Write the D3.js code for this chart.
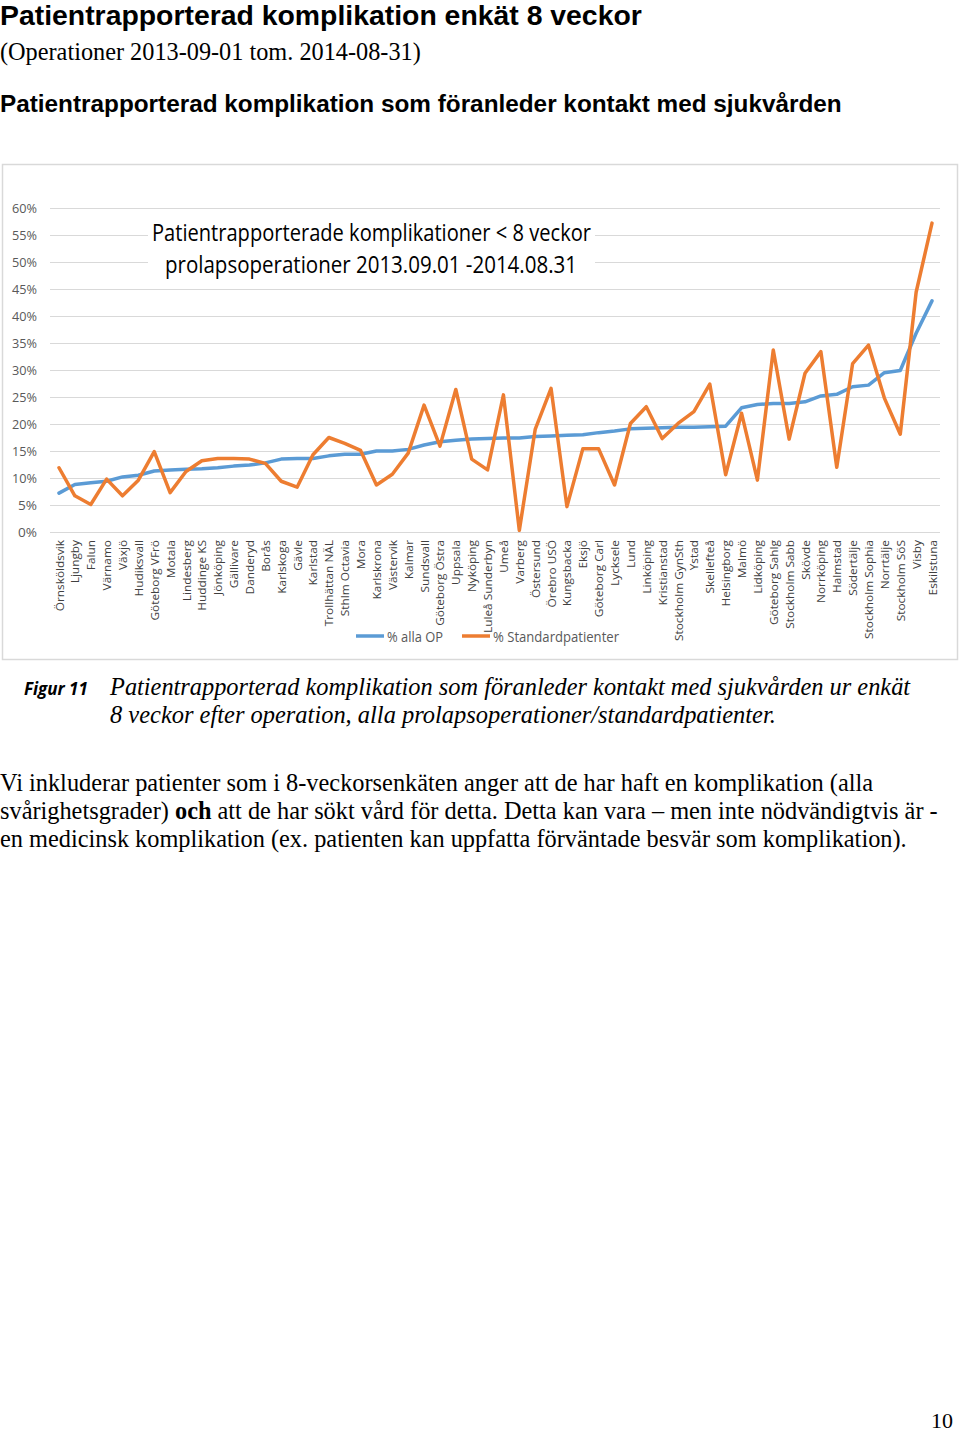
<!DOCTYPE html>
<html><head><meta charset="utf-8">
<script src="https://cdn.jsdelivr.net/npm/d3@7"></script>
<style>body{margin:0;background:#fff}svg{display:block}</style>
</head><body>
<script>
const categories = ["Örnsköldsvik","Ljungby","Falun","Värnamo","Växjö","Hudiksvall","Göteborg VFrö","Motala","Lindesberg","Huddinge KS","Jönköping","Gällivare","Danderyd","Borås","Karlskoga","Gävle","Karlstad","Trollhättan NÄL","Sthlm Octavia","Mora","Karlskrona","Västervik","Kalmar","Sundsvall","Göteborg Östra","Uppsala","Nyköping","Luleå Sunderbyn","Umeå","Varberg","Östersund","Örebro USÖ","Kungsbacka","Eksjö","Göteborg Carl","Lycksele","Lund","Linköping","Kristianstad","Stockholm GynSth","Ystad","Skellefteå","Helsingborg","Malmö","Lidköping","Göteborg Sahlg","Stockholm Sabb","Skövde","Norrköping","Halmstad","Södertälje","Stockholm Sophia","Norrtälje","Stockholm SöS","Visby","Eskilstuna"];
const allaOP = [7.2,8.8,9.1,9.4,10.2,10.5,11.3,11.5,11.6,11.7,11.9,12.2,12.4,12.8,13.5,13.6,13.6,14.1,14.4,14.4,15.0,15.0,15.3,16.1,16.7,17.0,17.2,17.3,17.4,17.4,17.7,17.8,17.9,18.0,18.4,18.7,19.1,19.2,19.3,19.4,19.4,19.5,19.6,23.0,23.6,23.8,23.8,24.1,25.2,25.5,26.9,27.2,29.5,29.9,36.8,42.8];
const standard = [11.9,6.7,5.1,9.8,6.7,9.6,14.9,7.3,11.2,13.2,13.6,13.6,13.5,12.7,9.4,8.3,14.3,17.5,16.4,15.1,8.7,10.7,14.6,23.5,15.9,26.4,13.5,11.5,25.4,0.3,19.0,26.6,4.7,15.4,15.4,8.7,20.1,23.2,17.3,20.1,22.3,27.4,10.6,22.0,9.6,33.7,17.2,29.4,33.4,12.0,31.2,34.6,24.8,18.1,44.4,57.2];
const yTicks = [0,5,10,15,20,25,30,35,40,45,50,55,60];
const seriesNames = ["% alla OP","% Standardpatienter"];
const seriesColors = ["#5b9bd5","#ed7d31"];

const W = 960, H = 1433;
const svg = d3.select("body").append("svg").attr("width", W).attr("height", H);

function fit(sel, target){ // scale font size so text spans target width
  const node = sel.node(); const w = node.getComputedTextLength();
  const fs = parseFloat(sel.attr("font-size"));
  if (w > 0) sel.attr("font-size", (fs * target / w).toFixed(2));
  return sel;
}
function squeeze(sel, target){
  sel.attr("textLength", target).attr("lengthAdjust","spacingAndGlyphs");
  return sel;
}

// Page headings
fit(svg.append("text").attr("x",0).attr("y",25).attr("font-family","Liberation Sans, Arial, sans-serif")
  .attr("font-weight","bold").attr("font-size",26).attr("fill","#000")
  .text("Patientrapporterad komplikation enkät 8 veckor"), 642);
fit(svg.append("text").attr("x",0).attr("y",60).attr("font-family","Liberation Serif, Times New Roman, serif")
  .attr("font-size",22).attr("fill","#000")
  .text("(Operationer 2013-09-01 tom. 2014-08-31)"), 421);
fit(svg.append("text").attr("x",0).attr("y",112).attr("font-family","Liberation Sans, Arial, sans-serif")
  .attr("font-weight","bold").attr("font-size",22).attr("fill","#000")
  .text("Patientrapporterad komplikation som föranleder kontakt med sjukvården"), 842);

// Chart frame
svg.append("rect").attr("x",2.5).attr("y",164.5).attr("width",955).attr("height",495)
  .attr("fill","#fff").attr("stroke","#d9d9d9").attr("stroke-width",1.5);

const x = d3.scalePoint().domain(categories).range([59, 932]);
const y = d3.scaleLinear().domain([0, 60]).range([532, 208]);

const font = "Open Sans, Lato, sans-serif";

// grid
const grid = svg.append("g");
grid.selectAll("line").data(yTicks).join("line")
  .attr("x1",50).attr("x2",940).attr("y1",d=>y(d)+0.5).attr("y2",d=>y(d)+0.5)
  .attr("stroke","#d9d9d9").attr("stroke-width",1);

// y axis labels via axis
const yAxis = d3.axisLeft(y).tickValues(yTicks).tickFormat(d=>d+"%").tickSize(0).tickPadding(0);
const ga = svg.append("g").attr("transform","translate(37,0)").call(yAxis);
ga.select(".domain").remove();
ga.selectAll("text").attr("font-family",font).attr("font-size",13).attr("fill","#595959")
  .attr("textLength",25).attr("lengthAdjust","spacingAndGlyphs");
ga.selectAll(".tick text").filter(d=>d<10).attr("textLength",19);

// chart title (with white background)
const tg = svg.append("g");
tg.append("rect").attr("x",148).attr("y",216).attr("width",447).attr("height",66).attr("fill","#fff");
squeeze(tg.append("text").attr("x",152).attr("y",241)
  .attr("font-family",font).attr("font-size",23.5).attr("fill","#000")
  .text("Patientrapporterade komplikationer < 8 veckor"), 439);
squeeze(tg.append("text").attr("x",165).attr("y",273)
  .attr("font-family",font).attr("font-size",23.5).attr("fill","#000")
  .text("prolapsoperationer 2013.09.01 -2014.08.31"), 412);

// lines
const line = d3.line().x((d,i)=>x(categories[i])).y(d=>y(d));
[allaOP, standard].forEach((s,k)=>{
  svg.append("path").datum(s).attr("d",line).attr("fill","none")
    .attr("stroke",seriesColors[k]).attr("stroke-width",3.5)
    .attr("stroke-linejoin","round").attr("stroke-linecap","round");
});

// x axis labels
const xAxis = d3.axisBottom(x).tickSize(0).tickPadding(0);
const gx = svg.append("g").attr("transform","translate(0,540)").call(xAxis);
gx.select(".domain").remove();
gx.selectAll("text").attr("font-family",font).attr("font-size",11.5).attr("fill","#404040")
  .attr("text-anchor","end").attr("dy","0.35em").attr("y",0).attr("x",0)
  .attr("transform","rotate(-90)")
  .each(function(){ const t=d3.select(this); const w=this.getComputedTextLength(); t.attr("textLength", (w*1.03).toFixed(1)).attr("lengthAdjust","spacingAndGlyphs"); });

// legend
const legendX = [356, 462];
const legendW = [56, 126];
seriesNames.forEach((n,k)=>{
  svg.append("line").attr("x1",legendX[k]).attr("x2",legendX[k]+28).attr("y1",636).attr("y2",636)
    .attr("stroke",seriesColors[k]).attr("stroke-width",3.5);
  squeeze(svg.append("text").attr("x",legendX[k]+31).attr("y",642).attr("font-family",font)
    .attr("font-size",15).attr("fill","#595959").text(n), legendW[k]);
});

// caption
svg.append("text").attr("x",24).attr("y",695).attr("font-family","Open Sans, sans-serif")
  .attr("font-weight","bold").attr("font-style","italic").attr("font-size",17).text("Figur 11");
fit(svg.append("text").attr("x",110).attr("y",695).attr("font-family","Liberation Serif, serif")
  .attr("font-style","italic").attr("font-size",22)
  .text("Patientrapporterad komplikation som föranleder kontakt med sjukvården ur enkät"), 800);
fit(svg.append("text").attr("x",110).attr("y",723).attr("font-family","Liberation Serif, serif")
  .attr("font-style","italic").attr("font-size",22)
  .text("8 veckor efter operation, alla prolapsoperationer/standardpatienter."), 666);

// paragraph
const para = [
  [["Vi inkluderar patienter som i 8-veckorsenkäten anger att de har haft en komplikation (alla", false]],
  [["svårighetsgrader) ", false],["och", true],[" att de har sökt vård för detta. Detta kan vara – men inte nödvändigtvis är -", false]],
  [["en medicinsk komplikation (ex. patienten kan uppfatta förväntade besvär som komplikation).", false]]
];
const paraW = [873, 938, 907];
para.forEach((ln,i)=>{
  const t = svg.append("text").attr("x",0).attr("y",791+28*i).attr("font-family","Liberation Serif, serif")
    .attr("font-size",22).attr("fill","#000");
  ln.forEach(([s,b])=>t.append("tspan").attr("font-weight",b?"bold":"normal").text(s));
  fit(t, paraW[i]);
});

svg.append("text").attr("x",953).attr("y",1428).attr("text-anchor","end")
  .attr("font-family","Liberation Serif, serif").attr("font-size",22).text("10");
</script>
</body></html>
